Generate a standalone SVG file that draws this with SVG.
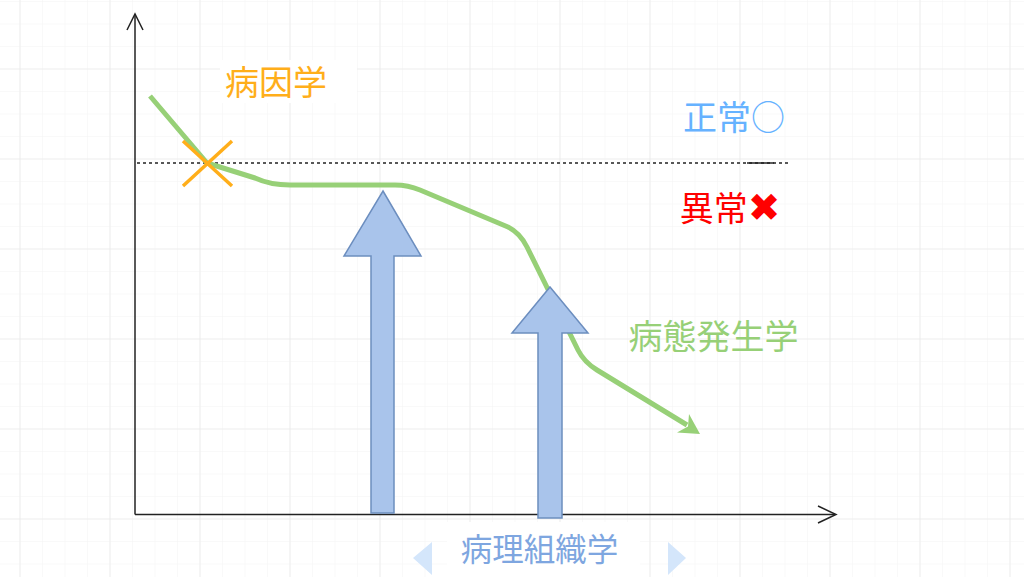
<svg xmlns="http://www.w3.org/2000/svg" width="1024" height="577" viewBox="0 0 1024 577">
  <style>
    .lbl { font-family: "Noto Sans CJK JP", "Noto Sans", "DejaVu Sans", sans-serif; text-anchor: middle; }
    .axis { stroke: #222; stroke-width: 1.5; fill: none; }
    .bigarrow { fill: #A9C4EB; stroke: #6C8EBF; stroke-width: 1.5; }
  </style>
  <defs>
    <pattern id="minor" patternUnits="userSpaceOnUse" x="19.5" y="1" width="22.5" height="22.5">
      <path d="M0,0 L0,22.5 M0,0 L22.5,0" stroke="#f3f3f3" stroke-width="1" fill="none"/>
    </pattern>
    <pattern id="major" patternUnits="userSpaceOnUse" x="19.5" y="-21.5" width="90" height="90">
      <path d="M0,0 L0,90 M0,0 L90,0" stroke="#e6e6e6" stroke-width="1.2" fill="none"/>
    </pattern>
  </defs>
  <rect x="0" y="0" width="1024" height="577" fill="#ffffff"/>
  <rect x="0" y="0" width="1024" height="577" fill="url(#minor)"/>
  <rect x="0" y="0" width="1024" height="577" fill="url(#major)"/>

  <!-- white label backgrounds -->
  <rect x="220" y="60" width="137" height="43" fill="#ffffff"/>
  <rect x="447" y="522" width="193" height="55" fill="#ffffff"/>

  <g id="connectors">
    <!-- axes -->
    <path class="axis" d="M135,514.5 L135,14"/>
    <path class="axis" d="M127,30 L135,14 L143,30"/>
    <path class="axis" d="M135,514.5 L835,514.5"/>
    <path class="axis" d="M818,506 L836,514.5 L818,523"/>
    <!-- threshold line -->
    <path d="M137,163 L790,163" stroke="#222" stroke-width="1.3" stroke-dasharray="3,3" fill="none"/>
    <path d="M747,163 L774,163" stroke="#222" stroke-width="1.5" fill="none"/>
    <!-- disease course curve -->
    <path d="M150,96 L207,163 L255,178 Q270,185 290,185 L395,185 Q408,185 420,190 L508,227 Q520,233 527,247 L578,350 Q584,362 597,370 L687,425" stroke="#97D077" stroke-width="5" fill="none" stroke-linejoin="round"/>
    <polygon points="700,434 689,414 688,426.5 677,432.6" fill="#97D077"/>
  </g>

  <g id="cross">
    <path d="M183,141 L232,186 M232,141 L183,186" stroke="#FFAE1A" stroke-width="3.5" fill="none"/>
  </g>

  <g id="arrow1">
    <polygon class="bigarrow" points="383,191 421,256 394,256 394,513 371,513 371,256 344,256"/>
  </g>
  <g id="arrow2">
    <polygon class="bigarrow" points="550,287 588,333 562,333 562,518 538,518 538,333 512,333"/>
  </g>

  <g id="label-etiology">
    <text class="lbl" x="276" y="95" font-size="34" fill="#FFAE1A">病因学</text>
  </g>
  <g id="label-normal">
    <text class="lbl" x="734" y="130" font-size="34" fill="#66B2FF">正常○</text>
  </g>
  <g id="label-abnormal">
    <text class="lbl" x="730" y="221" font-size="34" fill="#FF0000">異常<tspan font-size="39">✖</tspan></text>
  </g>
  <g id="label-pathogenesis">
    <text class="lbl" x="713.5" y="349" font-size="34" fill="#97D077">病態発生学</text>
  </g>
  <g id="label-histopathology">
    <polygon points="413,558 432,542 432,575" fill="#D4E6FB"/>
    <polygon points="686,558 668,542 668,575" fill="#D4E6FB"/>
    <text class="lbl" x="539.5" y="561" font-size="31.5" fill="#7EA6E0">病理組織学</text>
  </g>
</svg>
